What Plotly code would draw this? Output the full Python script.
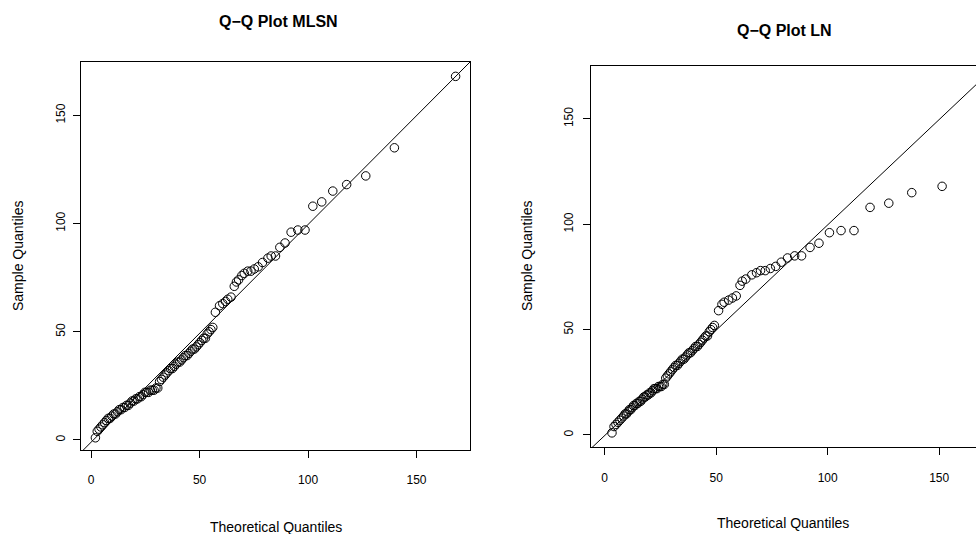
import plotly.graph_objects as go

# ---------------- data ----------------
sample_q = [1, 4, 5, 6, 7, 8, 9, 10, 10, 11, 12, 12, 13, 14, 14, 15, 15, 16, 16, 17,
            18, 18, 19, 19, 20, 20, 21, 22, 22, 22, 23, 23, 23, 24, 24, 27, 28, 29, 30, 31,
            32, 33, 33, 34, 35, 36, 36, 37, 38, 39, 39, 40, 41, 42, 42, 43, 44, 45, 46, 47,
            47, 49, 50, 51,
            52, 59, 62, 63, 64, 65, 66, 71, 73, 74, 76, 77, 78, 78, 79, 80, 82, 84, 85, 85,
            89, 91, 96, 97, 97, 108, 110, 115, 118, 122, 135, 168]

theo_mlsn = [2.0, 2.85, 3.69, 4.54, 5.38, 6.23, 7.07, 7.92, 8.76, 9.61, 10.45, 11.3, 12.14, 12.99,
             13.83, 14.68, 15.52, 16.37, 17.21, 18.06, 18.9, 19.75, 20.59, 21.44, 22.28, 23.13,
             23.97, 24.82, 25.66, 26.51, 27.35, 28.2, 29.04, 29.89, 30.73, 31.58, 32.42, 33.27,
             34.11, 34.96, 35.8, 36.65, 37.49, 38.34, 39.18, 40.03, 40.87, 41.72, 42.56, 43.41,
             44.25, 45.1, 45.94, 46.79, 47.63, 48.48, 49.32, 50.17, 51.01, 51.86, 52.7, 53.55,
             54.39, 55.24,
             56.1, 57.3, 59.2, 60.7, 62.0, 63.0, 64.5, 66.0, 67.0, 68.0, 69.5, 70.6, 72.2, 73.7,
             75.2, 77.0, 79.0, 81.5, 83.0, 85.0, 87.0, 89.4, 92.2, 95.3, 98.6, 102.2, 106.3,
             111.4, 117.8, 126.6, 139.8, 168.0]

theo_ln = [3.3, 4.22, 5.1, 5.97, 6.84, 7.71, 8.55, 9.19, 9.82, 10.46, 11.09, 11.73, 12.36, 12.99,
           13.62, 14.26, 14.9, 15.57, 16.22, 16.88, 17.53, 18.2, 18.85, 19.51, 20.16, 20.82,
           21.48, 22.14, 22.79, 23.46, 24.12, 24.78, 25.43, 26.09, 26.75, 27.41, 28.13, 28.88,
           29.62, 30.37, 31.11, 31.86, 32.6, 33.34, 34.08, 34.83, 35.57, 36.31, 37.05, 37.8,
           38.54, 39.29, 40.05, 40.81, 41.57, 42.33, 43.09, 43.85, 44.61, 45.37, 46.13, 46.9,
           47.65, 48.42,
           49.2, 51.1, 52.6, 53.6, 55.6, 57.3, 59.0, 60.7, 61.7, 63.3, 66.0, 68.1, 69.9, 72.0,
           74.3, 76.7, 79.2, 82.0, 85.2, 88.3, 92.1, 96.1, 100.8, 106.0, 111.8, 119.0, 127.4,
           137.7, 151.3, 172.0, 200.0, 260.0]

# reference lines: [intercept, slope]
line_mlsn = [-1.05, 1.006]
line_ln = [-0.3, 1.0]

tick_vals = [0, 50, 100, 150]
tick_text = ["0", "50", "100", "150"]

titles = ["Q\u2212Q Plot MLSN", "Q\u2212Q Plot LN"]
x_title = "Theoretical Quantiles"
y_title = "Sample Quantiles"

# ---------------- figure ----------------
W, H = 976, 534
FONT = "Liberation Sans, Arial, Helvetica, sans-serif"

xr1 = [-4.64, 174.64]
yr1 = [-4.64, 174.64]
xr2 = [-6.1, 166.5]
yr2 = [-5.7, 175.1]

fig = go.Figure()

marker = dict(symbol="circle-open", size=8.5, color="black", line=dict(width=1, color="black"))

fig.add_trace(go.Scatter(x=theo_mlsn, y=sample_q, mode="markers", marker=marker,
                         xaxis="x", yaxis="y", showlegend=False))
fig.add_trace(go.Scatter(x=xr1, y=[line_mlsn[0] + line_mlsn[1] * v for v in xr1], mode="lines",
                         line=dict(color="black", width=1), xaxis="x", yaxis="y", showlegend=False))
fig.add_trace(go.Scatter(x=theo_ln, y=sample_q, mode="markers", marker=marker,
                         xaxis="x2", yaxis="y2", showlegend=False))
fig.add_trace(go.Scatter(x=xr2, y=[line_ln[0] + line_ln[1] * v for v in xr2], mode="lines",
                         line=dict(color="black", width=1), xaxis="x2", yaxis="y2", showlegend=False))


def px_x(p):
    return p / W


def px_y(p):
    return 1 - p / H


ax_common = dict(showgrid=False, zeroline=False, ticks="outside", ticklen=7, tickwidth=1,
                 tickcolor="black", linecolor="black", linewidth=1, showline=True,
                 tickfont=dict(family=FONT, size=12, color="black"),
                 tickvals=tick_vals, ticktext=tick_text)

fig.update_layout(
    width=W, height=H, margin=dict(l=0, r=0, t=0, b=0),
    paper_bgcolor="white", plot_bgcolor="white",
    xaxis=dict(domain=[px_x(81), px_x(470)], range=xr1, anchor="y", mirror=True,
               ticklabelstandoff=12, **ax_common),
    yaxis=dict(domain=[px_y(450), px_y(62)], range=yr1, anchor="x", mirror=True,
               tickangle=-90, ticklabelstandoff=3, **ax_common),
    xaxis2=dict(domain=[px_x(591), 1.0], range=xr2, anchor="y2", mirror=True,
                ticklabelstandoff=13, **ax_common),
    yaxis2=dict(domain=[px_y(447), px_y(66)], range=yr2, anchor="x2", mirror=False,
                tickangle=-90, ticklabelstandoff=5, **ax_common),
)

ann = []
ann.append(dict(text="<b>" + titles[0] + "</b>", x=px_x(278), y=px_y(22), xref="paper", yref="paper",
                showarrow=False, font=dict(family=FONT, size=16, color="black"),
                xanchor="center", yanchor="middle"))
ann.append(dict(text="<b>" + titles[1] + "</b>", x=px_x(784), y=px_y(30), xref="paper", yref="paper",
                showarrow=False, font=dict(family=FONT, size=16, color="black"),
                xanchor="center", yanchor="middle"))
for cx, cy in [(276, 527), (783, 523)]:
    ann.append(dict(text=x_title, x=px_x(cx), y=px_y(cy), xref="paper", yref="paper",
                    showarrow=False, font=dict(family=FONT, size=14, color="black"),
                    xanchor="center", yanchor="middle"))
for cx, cy in [(18, 256), (527, 256)]:
    ann.append(dict(text=y_title, x=px_x(cx), y=px_y(cy), xref="paper", yref="paper",
                    showarrow=False, textangle=-90, font=dict(family=FONT, size=14, color="black"),
                    xanchor="center", yanchor="middle"))
fig.update_layout(annotations=ann)

fig.write_html("out.html")
